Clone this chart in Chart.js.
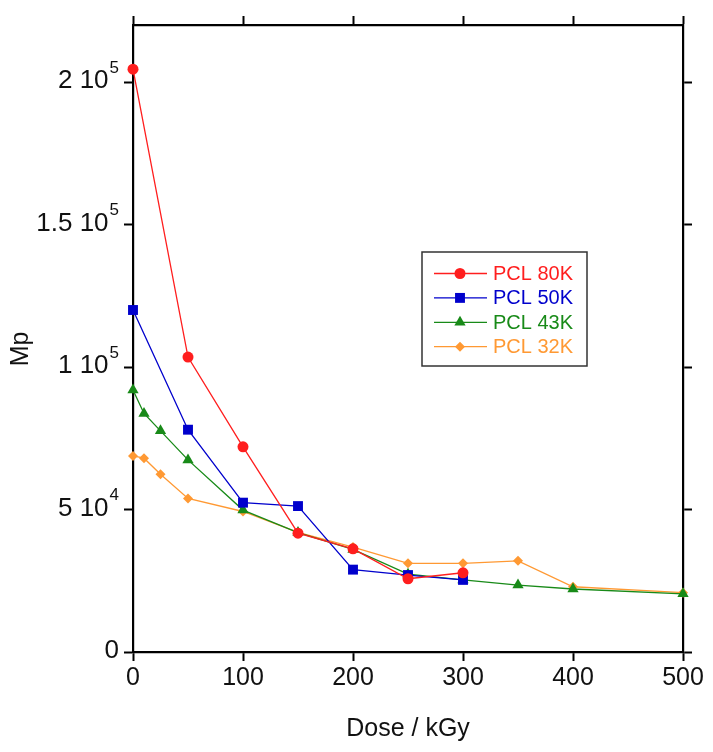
<!DOCTYPE html>
<html>
<head>
<meta charset="utf-8">
<script src="https://cdn.jsdelivr.net/npm/chart.js@4/dist/chart.umd.min.js"></script>
<style>
  html, body { margin: 0; padding: 0; background: #fff; }
  #wrap { width: 713px; height: 752px; }
</style>
</head>
<body>
<div id="wrap"><canvas id="c" width="713" height="752"></canvas></div>
<script>
// data
const seriesNames = ['PCL 80K', 'PCL 50K', 'PCL 43K', 'PCL 32K'];

const dose80 = [0, 50, 100, 150, 200, 250, 300];
const mp80   = [204500, 103500, 72000, 41700, 36200, 25700, 27800];

const dose50 = [0, 50, 100, 150, 200, 250, 300];
const mp50   = [120000, 78000, 52400, 51200, 28900, 27000, 25300];

const dose43 = [0, 10, 25, 50, 100, 150, 200, 250, 300, 350, 400, 500];
const mp43   = [91900, 83700, 77600, 67400, 49800, 41900, 36000, 27300, 25300, 23500, 22100, 20400];

const dose32 = [0, 10, 25, 50, 100, 150, 200, 250, 300, 350, 400, 500];
const mp32   = [68800, 68000, 62400, 53900, 49300, 42000, 36800, 31100, 31100, 32000, 22900, 20800];

const xTickValues = [0, 100, 200, 300, 400, 500];
const yTickValues = [0, 50000, 100000, 150000, 200000];
const yTickMant = ['0', '5 10', '1 10', '1.5 10', '2 10'];
const yTickExp  = ['', '4', '5', '5', '5'];

const colors = ['#ff1e1e', '#0000cc', '#188a18', '#ff9933'];
const styles = ['circle', 'rect', 'triangle', 'rectRot'];
const radii  = [5.5, 7, 6.5, 5];

const FONT = 'Arial, "Liberation Sans", sans-serif';

function pts(xs, ys){ return xs.map((x,i)=>({x, y: ys[i]})); }
const allX = [dose80, dose50, dose43, dose32];
const allY = [mp80, mp50, mp43, mp32];

const datasets = seriesNames.map((name,i)=>({
  label: name,
  data: pts(allX[i], allY[i]),
  borderColor: colors[i],
  backgroundColor: colors[i],
  borderWidth: 1.3,
  pointStyle: styles[i],
  pointRadius: radii[i],
  pointBorderWidth: 0,
  pointBackgroundColor: colors[i],
  tension: 0,
  clip: false
}));

function setTicks(vals){ return s => { s.ticks = vals.map(v=>({value:v})); }; }

// y tick labels with superscript exponent, the legend box and axis titles
const extras = {
  id: 'extras',
  afterDraw(chart){
    const ctx = chart.ctx, ys = chart.scales.y, ca = chart.chartArea;
    ctx.save();
    ctx.fillStyle = '#111';
    ctx.textBaseline = 'middle';
    ctx.textAlign = 'right';
    yTickValues.forEach((v,i)=>{
      const py = ys.getPixelForValue(v);
      let right = 119;
      if (yTickExp[i]) {
        ctx.font = '17px ' + FONT;
        ctx.fillText(yTickExp[i], right, py - 14);
        right -= ctx.measureText(yTickExp[i]).width + 1;
      }
      ctx.font = '26px ' + FONT;
      ctx.fillText(yTickMant[i], right, py - 1);
    });

    // axis titles
    ctx.textAlign = 'center';
    ctx.font = '25px ' + FONT;
    ctx.fillText('Dose / kGy', (ca.left + ca.right)/2, 729);
    ctx.save();
    ctx.translate(21, 349);
    ctx.rotate(-Math.PI/2);
    ctx.fillText('Mp', 0, 0);
    ctx.restore();

    // legend
    const bx = 422, by = 252, bw = 165, bh = 114;
    ctx.strokeStyle = '#333';
    ctx.lineWidth = 1.5;
    ctx.strokeRect(bx, by, bw, bh);
    ctx.textAlign = 'left';
    ctx.font = '20px ' + FONT;
    chart.data.datasets.forEach((ds,i)=>{
      const ry = 273.5 + i*24.4;
      ctx.strokeStyle = ds.borderColor;
      ctx.lineWidth = 1.3;
      ctx.beginPath(); ctx.moveTo(434, ry); ctx.lineTo(487, ry); ctx.stroke();
      ctx.fillStyle = ds.borderColor;
      Chart.helpers.drawPoint(ctx, {pointStyle: ds.pointStyle, radius: ds.pointRadius, rotation: 0, borderWidth: 0}, 460, ry);
      ctx.fillStyle = ds.borderColor;
      ctx.fillText(ds.label, 493, ry + 1);
    });
    ctx.restore();
  }
};

const axisGrid = { drawOnChartArea: false, tickLength: 9, tickWidth: 2, tickColor: '#000' };
const axisBorder = { display: true, width: 2.2, color: '#000' };

new Chart(document.getElementById('c'), {
  type: 'line',
  data: { datasets },
  options: {
    responsive: false,
    animation: false,
    devicePixelRatio: 1,
    layout: { padding: { left: 0, right: 30, top: 25, bottom: 0 } },
    plugins: { legend: { display: false }, tooltip: { enabled: false } },
    scales: {
      x: {
        type: 'linear', position: 'bottom', min: 0, max: 500,
        afterBuildTicks: setTicks(xTickValues),
        afterFit: s => { s.height = 100; },
        grid: axisGrid, border: axisBorder,
        ticks: { color: '#111', padding: 2, font: { family: FONT, size: 25 }, maxRotation: 0 }
      },
      x2: {
        type: 'linear', position: 'top', min: 0, max: 500,
        afterBuildTicks: setTicks(xTickValues),
        afterFit: s => { s.height = 0; },
        grid: axisGrid, border: axisBorder,
        ticks: { display: false }
      },
      y: {
        type: 'linear', position: 'left', min: 0, max: 220000,
        afterBuildTicks: setTicks(yTickValues),
        afterFit: s => { s.width = 133; },
        grid: axisGrid, border: axisBorder,
        ticks: { display: false }
      },
      y2: {
        type: 'linear', position: 'right', min: 0, max: 220000,
        afterBuildTicks: setTicks(yTickValues),
        afterFit: s => { s.width = 0; },
        grid: axisGrid, border: axisBorder,
        ticks: { display: false }
      }
    }
  },
  plugins: [extras]
});
</script>
</body>
</html>
